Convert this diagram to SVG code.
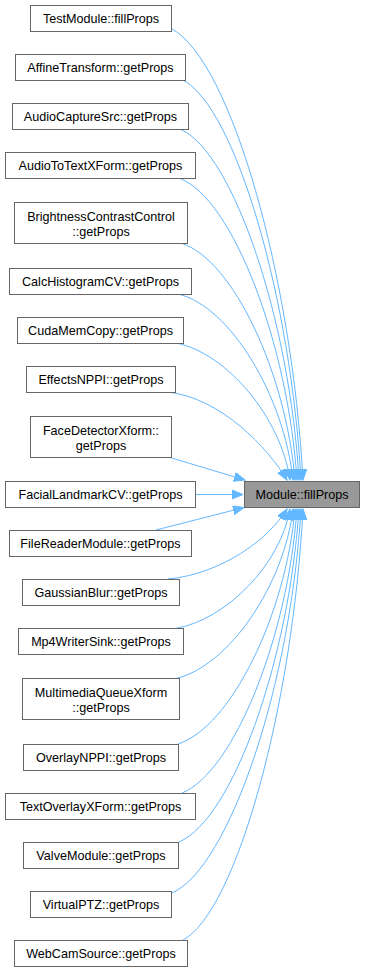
<svg xmlns="http://www.w3.org/2000/svg" width="365" height="972" viewBox="0 0 365 972">
  <style>
    .node rect { fill: #ffffff; stroke: #666666; stroke-width: 1; }
    .node.focus rect { fill: #999999; }
    .node text { font-family: "Liberation Sans", Arial, Helvetica, sans-serif; font-size: 12.6px; fill: #000000; text-anchor: middle; }
    .edges path { fill: none; stroke: #63b8ff; stroke-width: 1; marker-end: url(#arrow); }
  </style>
  <defs>
    <marker id="arrow" markerUnits="userSpaceOnUse" markerWidth="12" markerHeight="10" refX="11" refY="4.5" orient="auto">
      <path d="M0,0 L11,4.5 L0,9 Z" fill="#63b8ff" stroke="#63b8ff" stroke-width="1"/>
    </marker>
  </defs>
  <rect width="365" height="972" fill="#ffffff"/>

  <!-- connectors: every caller points at Module::fillProps -->
  <g id="edges" class="edges">
    <path d="M172,29 C231,61 292,277 303,480"/>
    <path d="M183,80 C236,108 291,300 301,480"/>
    <path d="M181,129.5 C234,154 290,322 299,480"/>
    <path d="M180,178.5 C233,199 288,344 297,480"/>
    <path d="M182,243.5 C233,260 286,373 295,480"/>
    <path d="M178,294 C230,306 284,396 293,480"/>
    <path d="M176,343 C227,353 281,418 290,480"/>
    <path d="M168,392 C221,398 268,448 287,480"/>
    <path d="M170,457.5 L245,480"/>
    <path d="M196,494.5 L243,494.5"/>
    <path d="M156,530 L244,507.5"/>
    <path d="M168,579 C221,574 268,540 287,509"/>
    <path d="M175,628.5 C227,620 281,563 290,509"/>
    <path d="M176,678.5 C229,666 284,585 293,509"/>
    <path d="M178,744 C231,727 286,614 295,509"/>
    <path d="M182,793 C234,772 288,636 297,509"/>
    <path d="M179,842 C233,819 289,659 299,509"/>
    <path d="M172,893 C230,867 291,682 301,509"/>
    <path d="M183,940 C237,911 293,703 303,509"/>
  </g>

  <g id="n_module_fillprops" class="node focus">
    <rect x="244.5" y="481.5" width="115" height="26"/>
    <text x="302" y="499">Module::fillProps</text>
  </g>
  <g id="n_testmodule" class="node">
    <rect x="30.5" y="5.5" width="141" height="26"/>
    <text x="101" y="23">TestModule::fillProps</text>
  </g>
  <g id="n_affinetransform" class="node">
    <rect x="15.5" y="54.5" width="170" height="26"/>
    <text x="100.5" y="72">AffineTransform::getProps</text>
  </g>
  <g id="n_audiocapturesrc" class="node">
    <rect x="12.5" y="103.5" width="176" height="26"/>
    <text x="100.5" y="121">AudioCaptureSrc::getProps</text>
  </g>
  <g id="n_audiototextxform" class="node">
    <rect x="5.5" y="152.5" width="190" height="26"/>
    <text x="100.5" y="170">AudioToTextXForm::getProps</text>
  </g>
  <g id="n_brightnesscontrastcontrol" class="node">
    <rect x="14.5" y="202.5" width="173" height="41"/>
    <text x="101" y="221">BrightnessContrastControl</text>
    <text x="101" y="236">::getProps</text>
  </g>
  <g id="n_calchistogramcv" class="node">
    <rect x="9.5" y="268.5" width="182" height="26"/>
    <text x="100.5" y="286">CalcHistogramCV::getProps</text>
  </g>
  <g id="n_cudamemcopy" class="node">
    <rect x="17.5" y="317.5" width="166" height="26"/>
    <text x="100.5" y="335">CudaMemCopy::getProps</text>
  </g>
  <g id="n_effectsnppi" class="node">
    <rect x="26.5" y="366.5" width="149" height="26"/>
    <text x="101" y="384">EffectsNPPI::getProps</text>
  </g>
  <g id="n_facedetectorxform" class="node">
    <rect x="30.5" y="416.5" width="141" height="41"/>
    <text x="101" y="435">FaceDetectorXform::</text>
    <text x="101" y="450">getProps</text>
  </g>
  <g id="n_faciallandmarkcv" class="node">
    <rect x="5.5" y="481.5" width="190" height="26"/>
    <text x="100.5" y="499">FacialLandmarkCV::getProps</text>
  </g>
  <g id="n_filereadermodule" class="node">
    <rect x="9.5" y="530.5" width="182" height="26"/>
    <text x="100.5" y="548">FileReaderModule::getProps</text>
  </g>
  <g id="n_gaussianblur" class="node">
    <rect x="22.5" y="579.5" width="157" height="26"/>
    <text x="101" y="597">GaussianBlur::getProps</text>
  </g>
  <g id="n_mp4writersink" class="node">
    <rect x="18.5" y="628.5" width="165" height="26"/>
    <text x="101" y="646">Mp4WriterSink::getProps</text>
  </g>
  <g id="n_multimediaqueuexform" class="node">
    <rect x="22.5" y="678.5" width="157" height="41"/>
    <text x="101" y="697">MultimediaQueueXform</text>
    <text x="101" y="712">::getProps</text>
  </g>
  <g id="n_overlaynppi" class="node">
    <rect x="23.5" y="744.5" width="155" height="26"/>
    <text x="101" y="762">OverlayNPPI::getProps</text>
  </g>
  <g id="n_textoverlayxform" class="node">
    <rect x="5.5" y="793.5" width="190" height="26"/>
    <text x="100.5" y="811">TextOverlayXForm::getProps</text>
  </g>
  <g id="n_valvemodule" class="node">
    <rect x="23.5" y="842.5" width="155" height="26"/>
    <text x="101" y="860">ValveModule::getProps</text>
  </g>
  <g id="n_virtualptz" class="node">
    <rect x="30.5" y="891.5" width="141" height="26"/>
    <text x="101" y="909">VirtualPTZ::getProps</text>
  </g>
  <g id="n_webcamsource" class="node">
    <rect x="14.5" y="940.5" width="173" height="26"/>
    <text x="101" y="958">WebCamSource::getProps</text>
  </g>
</svg>
